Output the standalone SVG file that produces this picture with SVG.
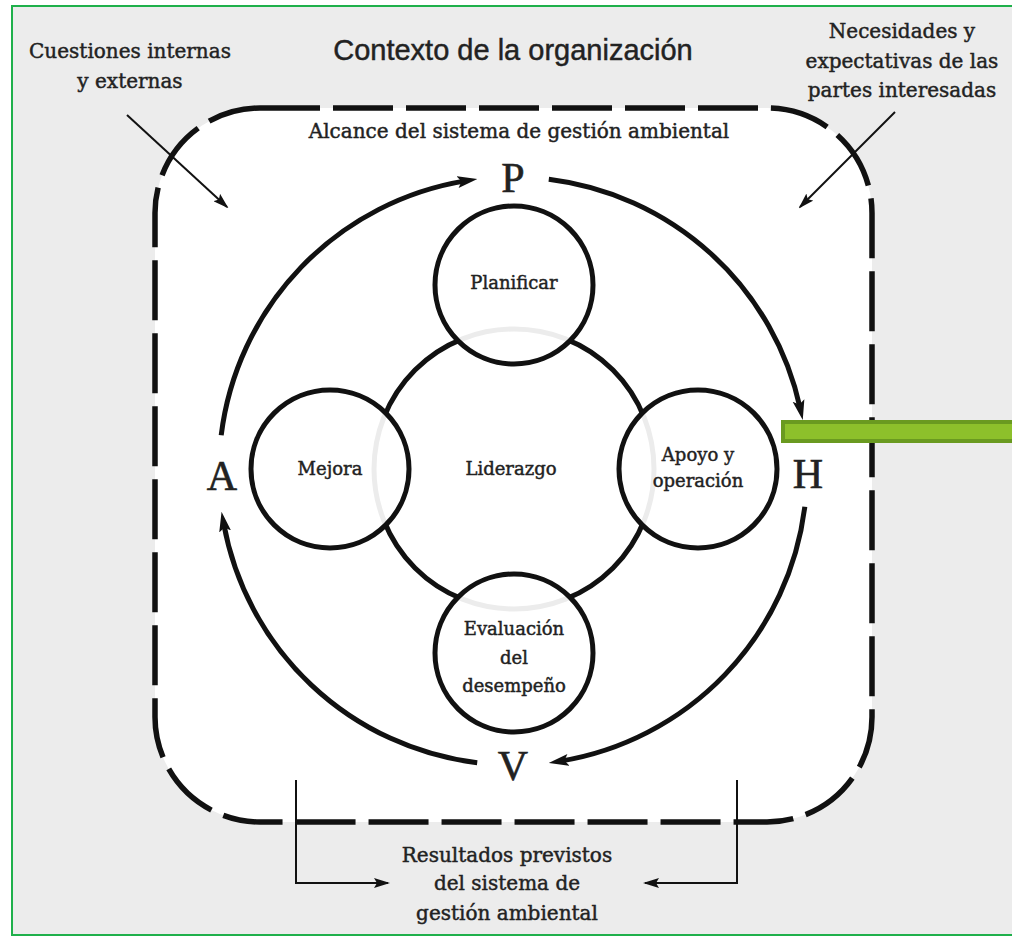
<svg xmlns="http://www.w3.org/2000/svg" width="1012" height="937" viewBox="0 0 1012 937">
<style>
.t{font-family:"DejaVu Serif","Liberation Serif",serif;fill:#222;stroke:#222;stroke-width:0.45px;text-anchor:middle}
.lab{font-size:20px}
.node{font-size:18px}
.big{font-family:"Liberation Serif","DejaVu Serif",serif;font-size:42px;stroke-width:0.6px}
.ring{fill:none;stroke:#111;stroke-width:5}
.thin{fill:none;stroke:#111;stroke-width:2}
.circ{fill:#fff;fill-opacity:0.92;stroke:#111;stroke-width:5}
</style>
<defs>
<marker id="ah" markerUnits="userSpaceOnUse" markerWidth="20" markerHeight="14" viewBox="0 0 20 14" refX="8" refY="7" orient="auto"><path d="M0,1 L20,7 L0,13 L4,7 z" fill="#111"/></marker>
<marker id="sh" markerUnits="userSpaceOnUse" markerWidth="16" markerHeight="10" viewBox="0 0 16 10" refX="14" refY="5" orient="auto"><path d="M0,0 L16,5 L0,10 L3,5 z" fill="#111"/></marker>
</defs>
<rect x="0" y="0" width="1012" height="937" fill="#fff"/>
<rect x="12" y="6" width="1010" height="929" fill="#ececec" stroke="#1fb04b" stroke-width="2"/>
<g id="scope">
<rect x="155" y="108" width="717" height="714" rx="105" fill="#fff" stroke="#111" stroke-width="5.5" stroke-dasharray="60 13"/>
</g>
<g id="title"><text class="t" x="513" y="60" style="font-family:'Liberation Sans',Arial,sans-serif;font-size:29px">Contexto de la organización</text></g>
<g id="scope-label"><text class="t" x="519" y="138" style="font-size:20px">Alcance del sistema de gestión ambiental</text></g>
<g id="issues"><text class="t lab" x="130" y="58">Cuestiones internas</text><text class="t lab" x="130" y="88">y externas</text></g>
<g id="needs"><text class="t lab" x="902" y="38">Necesidades y</text><text class="t lab" x="902" y="68">expectativas de las</text><text class="t lab" x="902" y="97">partes interesadas</text></g>
<g id="results"><text class="t lab" x="507" y="862">Resultados previstos</text><text class="t lab" x="507" y="890">del sistema de</text><text class="t lab" x="507" y="920">gestión ambiental</text></g>
<g id="connectors">
<path class="ring" d="M221.2,435.2 A294,294 0 0 1 465.5,180.9" marker-end="url(#ah)"/>
<path class="ring" d="M548.8,179.2 A294,294 0 0 1 800.2,408.4" marker-end="url(#ah)"/>
<path class="ring" d="M804.8,506.8 A294,294 0 0 1 560.5,761.1" marker-end="url(#ah)"/>
<path class="ring" d="M477.2,762.8 A294,294 0 0 1 223.7,523.6" marker-end="url(#ah)"/>
<line class="thin" x1="127" y1="115" x2="227" y2="207" marker-end="url(#sh)"/>
<line class="thin" x1="895" y1="112" x2="800" y2="207" marker-end="url(#sh)"/>
<path class="thin" d="M296,780 V883 H388" marker-end="url(#sh)"/>
<path class="thin" d="M737,780 V883 H645" marker-end="url(#sh)"/>
</g>
<g id="pdca">
<text class="t big" x="513" y="192">P</text>
<text class="t big" x="808" y="488">H</text>
<text class="t big" x="513" y="780">V</text>
<text class="t big" x="222" y="490">A</text>
</g>
<g id="liderazgo"><circle cx="514" cy="469" r="140" class="ring"/><text class="t node" x="511" y="475">Liderazgo</text></g>
<g id="planificar"><circle cx="514" cy="285" r="79" class="circ"/><text class="t node" x="514" y="289">Planificar</text></g>
<g id="mejora"><circle cx="330" cy="469" r="79" class="circ"/><text class="t node" x="330" y="475">Mejora</text></g>
<g id="apoyo"><circle cx="698" cy="469" r="79" class="circ"/><text class="t node" x="698" y="461">Apoyo y</text><text class="t node" x="698" y="487">operación</text></g>
<g id="evaluacion"><circle cx="514" cy="653" r="79" class="circ"/><text class="t node" x="514" y="635">Evaluación</text><text class="t node" x="514" y="664">del</text><text class="t node" x="514" y="692">desempeño</text></g>
<g id="green-bar"><rect x="783" y="422" width="235" height="19" fill="#8dc02b" stroke="#6a9a20" stroke-width="4"/></g>
</svg>
